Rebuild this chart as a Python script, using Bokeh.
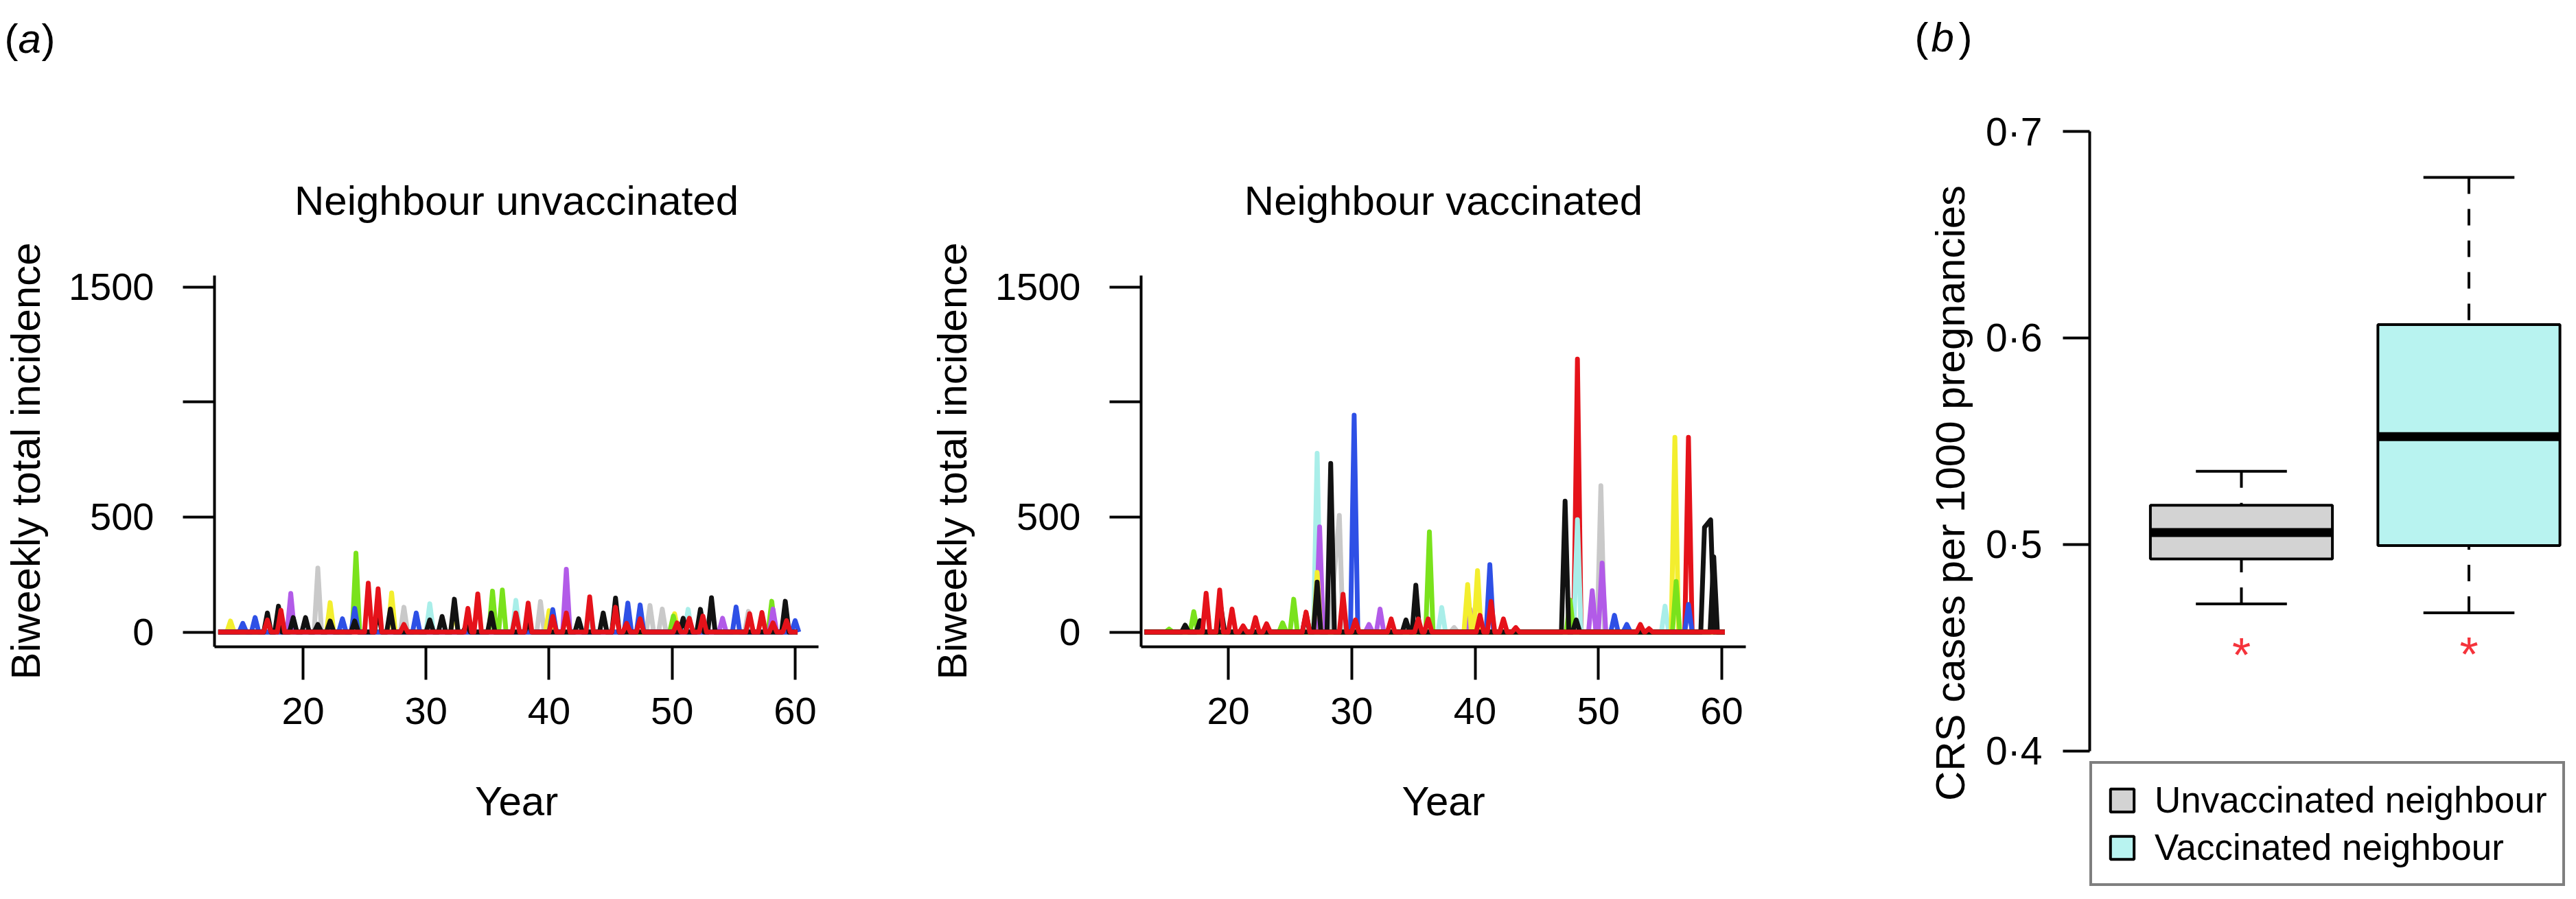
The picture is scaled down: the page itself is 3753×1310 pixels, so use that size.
from bokeh.plotting import figure
from bokeh.layouts import row, column
from bokeh.models import (ColumnDataSource, FixedTicker, Legend, LegendItem, Range1d, Title)
from bokeh.embed import file_html
from bokeh.resources import INLINE
from bokeh.core.properties import value

FONT = "Liberation Sans"

# ------------------------------------------------------------------
# Panel (a): biweekly total incidence, peaks
# each entry: (year, incidence at peak)
# ------------------------------------------------------------------
unvac_span = (13.1, 60.2)
unvac_cyan = [(30.3, 123), (37.3, 138), (38.3, 78), (43.4, 68), (51.3, 99)]
unvac_gray = [(21.2, 278), (28.2, 108), (39.3, 133), (48.2, 116), (49.2, 100), (56.2, 90)]
unvac_yellow = [(14.1, 48), (22.2, 128), (27.2, 170), (32.3, 103), (40.0, 93), (50.2, 80), (52.3, 60)]
unvac_green = [(24.3, 343), (35.4, 178), (36.2, 183), (50.1, 70), (58.1, 134)]
unvac_purple = [(19.0, 168), (41.4, 273), (47.4, 68), (54.1, 60), (58.2, 100)]
unvac_blue = [(15.1, 38), (16.1, 63), (23.2, 58), (24.2, 103), (29.2, 83), (40.3, 98),
              (46.4, 126), (47.4, 118), (55.2, 109), (60.0, 50)]
unvac_black = [(17.1, 83), (18.0, 113), (19.2, 63), (20.2, 63), (21.2, 33), (22.2, 48),
               (24.2, 48), (26.1, 98), (27.1, 100), (30.3, 53), (31.3, 68), (32.3, 143),
               (33.3, 33), (35.3, 83), (38.3, 43), (42.4, 58), (44.4, 83), (45.4, 148),
               (50.9, 60), (52.3, 99), (53.2, 149), (59.2, 134)]
unvac_red = [(17.1, 53), (18.2, 95), (25.3, 213), (26.1, 188), (28.2, 33), (33.4, 103),
             (34.2, 166), (37.3, 83), (38.3, 126), (40.3, 68), (41.4, 83), (43.3, 153),
             (45.4, 108), (46.3, 38), (47.4, 58), (50.4, 40), (51.4, 60), (52.5, 70),
             (56.3, 80), (57.3, 85), (58.2, 40), (59.3, 50)]

vac_span = (13.2, 60.25)
vac_red_a = [(48.3, 1187), (57.3, 847)]
vac_gray = [(28.6, 260), (29.0, 507), (38.3, 20), (50.2, 636)]
vac_blue = [(30.2, 943), (41.2, 293), (51.3, 73), (52.3, 33), (57.3, 120)]
vac_cyan = [(27.2, 777), (37.3, 107), (48.3, 489), (55.4, 113)]
vac_purple = [(27.4, 457), (31.4, 33), (32.3, 100), (39.6, 100), (49.5, 180), (50.3, 300)]
vac_yellow = [(27.2, 260), (39.4, 207), (40.2, 267), (56.2, 847)]
vac_green = [(15.2, 13), (17.2, 89), (24.4, 40), (25.3, 143), (36.3, 436), (47.7, 140), (56.3, 220)]
vac_black = [(16.5, 30), (17.7, 50), (19.4, 107), (26.3, 80), (27.2, 217), (28.3, 733),
             (34.4, 53), (35.2, 204), (47.3, 569), (48.2, 53), (58.6, 455), (59.1, 488)]
vac_black_b = [(59.35, 327)]
vac_red_b = [(18.2, 169), (19.3, 183), (20.3, 100), (21.2, 27), (22.2, 63), (23.1, 36),
             (26.3, 87), (29.3, 164), (30.3, 53), (33.2, 57), (35.4, 57), (36.2, 57),
             (40.4, 73), (41.3, 133), (42.3, 57), (43.3, 20), (53.4, 33), (54.1, 15)]

x_ticks_a = [20, 30, 40, 50, 60]
y_ticks_a = [0, 500, 1000, 1500]

# ------------------------------------------------------------------
# Panel (b): CRS cases per 1000 pregnancies (box plot statistics)
# ------------------------------------------------------------------
groups = ["Unvaccinated neighbour", "Vaccinated neighbour"]
box_pos = [1, 2]
q1 = [0.4930, 0.4995]
median = [0.5058, 0.5522]
q3 = [0.5190, 0.6065]
whisker_lo = [0.4713, 0.4669]
whisker_hi = [0.5355, 0.6777]
outliers = [0.4542, 0.4545]
box_fill = ["#D3D3D3", "#B8F3F0"]
y_ticks_b = [0.4, 0.5, 0.6, 0.7]

panel_letters = ["a", "b"]

COL = {"black": "#121212", "red": "#E5121A", "green": "#7AE21C", "blue": "#2E50E6",
       "cyan": "#A9EEE9", "purple": "#B25BE8", "yellow": "#F3EE2E", "gray": "#C9C9C9"}

HALF_W = 0.3   # half width (years) of a drawn epidemic peak
STRIP_H = 140  # height of the strip holding the panel letters


def peak_path(peaks, span):
    xs, ys = [span[0]], [0.0]
    for t, h in sorted(peaks):
        if xs[-1] > t - HALF_W:
            if ys[-1] == 0 and len(xs) > 1:
                xs.pop(); ys.pop()
            xs.append(t); ys.append(h)
        else:
            xs += [t - HALF_W, t]; ys += [0.0, h]
        xs.append(t + HALF_W); ys.append(0.0)
    if xs[-1] < span[1]:
        xs.append(span[1]); ys.append(0.0)
    return ColumnDataSource(dict(x=xs, y=ys))


def base_fig(**kw):
    p = figure(output_backend="svg", toolbar_location=None, **kw)
    p.frame_align = False
    p.background_fill_color = "white"
    p.border_fill_color = None
    p.outline_line_color = None
    p.grid.visible = False
    return p


def style_axis(ax, tick_out, label_size="56px"):
    ax.axis_line_width = 4
    ax.major_tick_line_width = 4
    ax.major_tick_in = 0
    ax.major_tick_out = tick_out
    ax.minor_tick_line_color = None
    ax.major_label_text_font = FONT
    ax.major_label_text_font_size = label_size
    ax.major_label_text_color = "black"
    ax.axis_label_text_font = FONT
    ax.axis_label_text_font_size = "60px"
    ax.axis_label_text_font_style = "normal"
    ax.axis_label_text_color = "black"
    ax.axis_line_color = "black"
    ax.major_tick_line_color = "black"


ROW_H = 1294 - STRIP_H
A_TOP = 409 - 8 - STRIP_H


def incidence_panel(title, series, span, width, left, right, xr):
    p = base_fig(width=width, height=ROW_H, title=title,
                 x_range=Range1d(*xr), y_range=Range1d(-64, 1550),
                 min_border_left=left, min_border_right=right,
                 min_border_top=A_TOP, min_border_bottom=ROW_H - A_TOP - 541)
    p.title.text_font = FONT
    p.title.text_font_size = "60px"
    p.title.text_font_style = "normal"
    p.title.text_color = "black"
    p.title.align = "center"
    p.title.standoff = 152
    for peaks, col in series:
        p.line("x", "y", source=peak_path(peaks, span), line_color=COL[col],
               line_width=7, line_join="round")
    p.xaxis.ticker = FixedTicker(ticks=x_ticks_a)
    p.yaxis.ticker = FixedTicker(ticks=y_ticks_a)
    p.yaxis.major_label_overrides = {1000: ""}
    p.xaxis.axis_label = "Year"
    p.yaxis.axis_label = "Biweekly total incidence"
    style_axis(p.xaxis[0], 48)
    style_axis(p.yaxis[0], 46)
    p.xaxis.major_label_standoff = 26
    p.xaxis.axis_label_standoff = 76
    p.yaxis.major_label_standoff = 42
    p.yaxis.axis_label_standoff = 26
    return p


p1 = incidence_panel("Neighbour unvaccinated",
                     [(unvac_cyan, "cyan"), (unvac_gray, "gray"), (unvac_yellow, "yellow"),
                      (unvac_green, "green"), (unvac_purple, "purple"), (unvac_blue, "blue"),
                      (unvac_black, "black"), (unvac_red, "red")],
                     unvac_span, 1332, 312, 140, (12.80, 61.90))
p2 = incidence_panel("Neighbour vaccinated",
                     [(vac_red_a, "red"), (vac_gray, "gray"), (vac_blue, "blue"),
                      (vac_cyan, "cyan"), (vac_purple, "purple"), (vac_yellow, "yellow"),
                      (vac_green, "green"), (vac_black, "black"), (vac_black_b, "black"),
                      (vac_red_b, "red")],
                     vac_span, 1360, 330, 149, (12.93, 61.95))

# ---------------- panel (b) ----------------
# frame: page y 150 .. 1302 (legend inside the frame, at its bottom-left)
p3_top = 150 - 8 - STRIP_H
p3 = base_fig(width=1045, height=ROW_H, x_range=Range1d(0.33333, 2.42383),
              y_range=Range1d(0.33355, 0.71628), x_axis_location=None,
              min_border_left=352, min_border_right=0, min_border_top=p3_top,
              min_border_bottom=0)

bsrc = ColumnDataSource(dict(pos=box_pos, q1=q1, med=median, q3=q3, lo=whisker_lo,
                             hi=whisker_hi, out=outliers,
                             left=[b - 0.4 for b in box_pos], right=[b + 0.4 for b in box_pos],
                             cl=[b - 0.2 for b in box_pos], cr=[b + 0.2 for b in box_pos],
                             star=["*", "*"]))
# whiskers: drawn from the whisker end toward the hinge (as R does)
p3.segment(x0="pos", y0="hi", x1="pos", y1="q3", source=bsrc, line_color="black",
           line_width=4, line_dash="24 22", line_cap="butt")
p3.segment(x0="pos", y0="lo", x1="pos", y1="q1", source=bsrc, line_color="black",
           line_width=4, line_dash="24 22", line_cap="butt")
p3.segment(x0="cl", y0="hi", x1="cr", y1="hi", source=bsrc, line_color="black", line_width=4)
p3.segment(x0="cl", y0="lo", x1="cr", y1="lo", source=bsrc, line_color="black", line_width=4)
box_renderers = []
for i in range(len(groups)):
    r = p3.quad(left=[box_pos[i] - 0.4], right=[box_pos[i] + 0.4], bottom=[q1[i]], top=[q3[i]],
                fill_color=box_fill[i], line_color="black", line_width=4)
    box_renderers.append(r)
p3.segment(x0="left", y0="med", x1="right", y1="med", source=bsrc, line_color="black",
           line_width=13, line_cap="butt")
p3.text(x="pos", y="out", text="star", source=bsrc, text_color="#F5333B",
        text_font=value(FONT), text_font_size="70px", text_align="center",
        text_baseline="alphabetic", y_offset=24)

p3.yaxis.bounds = (0.4, 0.7)
p3.yaxis.ticker = FixedTicker(ticks=y_ticks_b)
p3.yaxis.major_label_overrides = {t: ("%.1f" % t).replace(".", "\u00b7") for t in y_ticks_b}
ax = p3.yaxis[0]
style_axis(ax, 39, "57px")
ax.major_label_standoff = 30

# axis title, centred on the 0.4-0.7 axis (frame centre is 76 px lower)
p3.add_layout(Title(text="CRS cases per 1000 pregnancies", align="center", offset=76,
                    standoff=31, text_font=FONT, text_font_size="60px",
                    text_font_style="normal", text_color="black"), "left")

legend = Legend(items=[LegendItem(label=groups[i], renderers=[box_renderers[i]])
                       for i in range(len(groups))],
                location=(0, 3), border_line_color="black", border_line_width=4,
                background_fill_color="white", background_fill_alpha=1.0,
                label_text_font=FONT, label_text_font_size="53px",
                label_text_color="black",
                glyph_width=43, glyph_height=42, label_standoff=26,
                padding=22, spacing=8, margin=0)
p3.add_layout(legend)

# ---------------- strip with the panel letters (page pixel coordinates) ----------------
strip = base_fig(width=3737, height=STRIP_H, x_range=Range1d(8, 3745),
                 y_range=Range1d(8 + STRIP_H, 8), x_axis_location=None,
                 y_axis_location=None, min_border=0)
strip.min_border_left = 0
strip.min_border_right = 0
strip.min_border_top = 0
strip.min_border_bottom = 0
letter_src = ColumnDataSource(dict(
    x=[14, 2797], par_close_x=[68, 2861], letter_x=[34, 2821], y=[64, 62],
    open=["(", "("], close=[")", ")"], letter=panel_letters))
strip.text(x="x", y="y", text="open", source=letter_src, text_font=value(FONT),
           text_font_size="60px", text_color="black", text_align="left",
           text_baseline="alphabetic")
strip.text(x="letter_x", y="y", text="letter", source=letter_src, text_font=value(FONT),
           text_font_size="60px", text_font_style="italic", text_color="black",
           text_align="left", text_baseline="alphabetic")
strip.text(x="par_close_x", y="y", text="close", source=letter_src, text_font=value(FONT),
           text_font_size="60px", text_color="black", text_align="left",
           text_baseline="alphabetic")

layout = column(strip, row(p1, p2, p3, spacing=0), spacing=0)
open("out.html", "w").write(file_html(layout, INLINE))
